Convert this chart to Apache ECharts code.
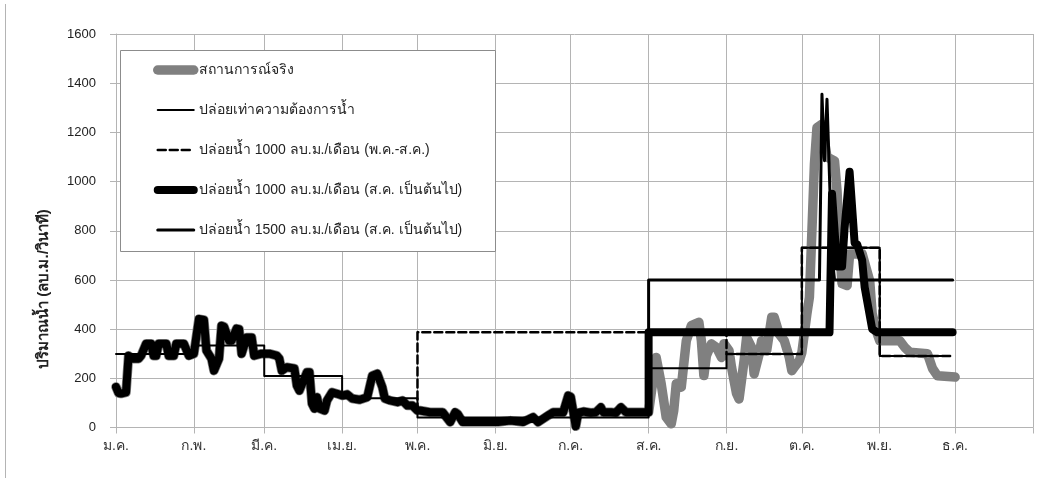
<!DOCTYPE html>
<html>
<head>
<meta charset="utf-8">
<script src="https://cdn.jsdelivr.net/npm/echarts@6/dist/echarts.min.js"></script>
<style>
html, body { margin: 0; padding: 0; background: #fff; }
#chart { width: 1043px; height: 481px; }
</style>
</head>
<body>
<div id="chart"></div>
<script>
// Month axis (day-of-year scale, non-leap year)
const monthLabels = ['ม.ค.', 'ก.พ.', 'มี.ค.', 'เม.ย.', 'พ.ค.', 'มิ.ย.', 'ก.ค.', 'ส.ค.', 'ก.ย.', 'ต.ค.', 'พ.ย.', 'ธ.ค.'];
const monthDays = [31, 28, 31, 30, 31, 30, 31, 31, 30, 31, 30, 31];
const yMin = 0, yMax = 1600, yStep = 200;

// Observed outflow, [day of year, m3/s]
const actualJanJul = [
  [0,165],[1,140],[2,138],[4,143],[5,292],[6,280],[9,280],[10,292],[12,341],[14,341],[15,292],[16,292],
  [17,341],[20,341],[21,292],[23,292],[24,341],[27,341],[29,292],[31,300],[33,441],[35,437],[36,313],
  [38,280],[39,231],[41,280],[42,414],[43,410],[45,353],[46,353],[48,402],[49,400],[50,300],[52,366],
  [54,366],[55,292],[58,300],[61,300],[64,292],[65,280],[66,231],[68,245],[71,240],[72,170],[73,150],
  [76,225],[77,225],[78,97],[79,77],[80,123],[81,77],[83,69],[84,110],[86,143],[88,137],[90,130],
  [92,135],[94,118],[97,113],[100,123],[102,211],[104,219],[106,164],[107,118],[109,110],[112,103],
  [114,110],[116,89],[118,89],[120,69],[121,69],[125,62],[130,62],[133,22],[135,62],[136,55],[138,22],
  [144,22],[152,22],[157,28],[162,22],[166,42],[168,22],[172,49],[174,62],[178,62],[180,130],[181,125],
  [182,65],[183,5],[184,60],[186,65],[189,60],[191,62],[193,82],[194,62],[197,62],[199,60],[201,82],
  [203,62],[210,62],[212,62]
];
const actualAugDec = [
  [215,285],[217,178],[219,42],[221,15],[222,69],[223,178],[225,164],[227,353],[229,414],[232,428],
  [233,353],[234,211],[235,292],[237,340],[239,326],[241,285],[242,341],[244,313],[245,245],[247,138],
  [248,116],[250,272],[251,366],[253,326],[254,218],[256,299],[257,353],[259,313],[261,448],[262,448],
  [264,380],[266,353],[268,285],[269,231],[270,245],[272,272],[273,305],[275,462],[276,529],[277,800],
  [278,1071],[279,1219],[281,1233],[283,1100],[286,1084],[287,962],[288,732],[289,585],[291,577],
  [292,705],[297,706],[300,597],[301,462],[303,382],[304,353],[312,353],[314,325],[316,306],[323,300],
  [325,240],[327,210],[334,205]
];

// Release scenarios, [day of year, m3/s]
const demandRelease = [
  [0,299],[31,299],[31,333],[59,333],[59,209],[90,209],[90,119],[120,119],[120,41],[212,41],
  [212,241],[243,241],[243,299],[273,299],[273,731],[304,731],[304,291],[332,291]
];
const release1000MayAug = [
  [120,65],[120,387],[243,387],[243,299],[273,299],[273,731],[304,731],[304,291],[332,291]
];
const release1000FromAug = [
  [212,62],[212,387],[284,387],[285,950],[287,655],[289,655],[290,810],[292,1040],[294,750],[295,745],
  [297,680],[298,570],[301,400],[303,387],[333,387]
];
const release1500FromAug = [
  [212,62],[212,600],[280,600],[281,1355],[282,1085],[283,1335],[285,700],[286,600],[333,600]
];

const seriesNames = [
  'สถานการณ์จริง',
  'ปล่อยเท่าความต้องการน้ำ',
  'ปล่อยน้ำ 1000 ลบ.ม./เดือน (พ.ค.-ส.ค.)',
  'ปล่อยน้ำ 1000 ลบ.ม./เดือน (ส.ค. เป็นต้นไป)',
  'ปล่อยน้ำ 1500 ลบ.ม./เดือน (ส.ค. เป็นต้นไป)'
];

// Day categories with a label on the first day of each month
const monthStarts = [];
let dayCount = 0;
monthDays.forEach(function (d) { monthStarts.push(dayCount); dayCount += d; });
monthStarts.push(dayCount);
const dayCategories = [];
for (let i = 0; i <= dayCount; i++) {
  const m = monthStarts.indexOf(i);
  dayCategories.push(m >= 0 && m < monthLabels.length ? monthLabels[m] : '');
}
const isMonthStart = function (i) { return monthStarts.indexOf(i) >= 0; };

const FONT = '"Liberation Sans", Arial, "Noto Sans", sans-serif';
const GRID = '#b4b4b4';

const chart = echarts.init(document.getElementById('chart'), null, { renderer: 'canvas' });

function lineSeries(name, data, color, width, type, z) {
  return {
    name: name,
    type: 'line',
    data: data,
    symbol: 'none',
    z: z,
    lineStyle: { color: color, width: width, type: type, cap: 'round', join: 'round' },
    itemStyle: { color: color },
    animation: false
  };
}

chart.setOption({
  animation: false,
  grid: { left: 116, right: 10, top: 34, bottom: 53.5, containLabel: false },
  xAxis: {
    type: 'category',
    data: dayCategories,
    boundaryGap: false,
    axisLine: { show: true, lineStyle: { color: GRID, width: 1 } },
    axisTick: { show: true, interval: function (i) { return isMonthStart(i); }, length: 6, lineStyle: { color: GRID } },
    axisLabel: {
      interval: function (i) { return isMonthStart(i); },
      margin: 12, color: '#333', fontSize: 14, fontFamily: FONT
    },
    splitLine: { show: true, interval: function (i) { return isMonthStart(i); }, lineStyle: { color: GRID, width: 1 } }
  },
  yAxis: {
    type: 'value',
    min: yMin, max: yMax, interval: yStep,
    axisLine: { show: true, lineStyle: { color: GRID, width: 1 } },
    axisTick: { show: true, length: 6, lineStyle: { color: GRID } },
    axisLabel: { margin: 20, color: '#222', fontSize: 13, fontFamily: FONT,
                 formatter: function (v) { return String(v); } },
    splitLine: { show: true, lineStyle: { color: GRID, width: 1 } }
  },
  legend: {
    data: seriesNames,
    orient: 'vertical',
    left: 153, top: 63,
    itemWidth: 36, itemHeight: 14, itemGap: 26,
    padding: 0,
    z: 8,
    itemStyle: { opacity: 0 },
    lineStyle: { width: 'inherit' },
    textStyle: { color: '#222', fontSize: 14, fontFamily: FONT },
    selectedMode: false
  },
  graphic: [
    { type: 'rect', z: 6, shape: { x: 120.5, y: 50.5, width: 375, height: 201 },
      style: { fill: '#fff', stroke: '#8c8c8c', lineWidth: 1 } },
    { type: 'text', z: 6, x: 44, y: 289, rotation: Math.PI / 2,
      style: { text: 'ปริมาณน้ำ (ลบ.ม./วินาที)', fill: '#222', font: 'bold 15px ' + FONT,
               textAlign: 'center', textVerticalAlign: 'middle' } },
    { type: 'line', z: 1, shape: { x1: 5.5, y1: 4, x2: 5.5, y2: 478 },
      style: { stroke: '#b4b4b4', lineWidth: 1 } }
  ],
  series: [
    lineSeries(seriesNames[0], actualJanJul.concat(actualAugDec), '#808080', 9.5, 'solid', 2),
    lineSeries(seriesNames[1], demandRelease, '#000', 2, 'solid', 4),
    lineSeries(seriesNames[2], release1000MayAug, '#000', 2.5, [8, 4], 5),
    lineSeries(seriesNames[3], actualJanJul.concat(release1000FromAug), '#000', 8, 'solid', 3),
    lineSeries(seriesNames[4], release1500FromAug, '#000', 3, 'solid', 6)
  ]
});
</script>
</body>
</html>
